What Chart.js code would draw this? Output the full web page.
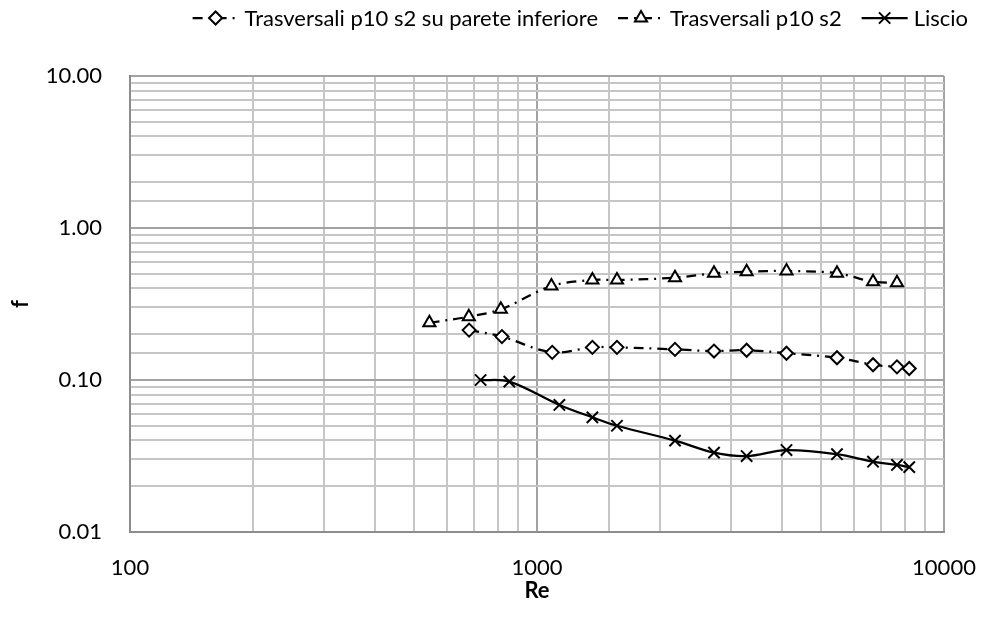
<!DOCTYPE html>
<html>
<head>
<meta charset="utf-8">
<title>f vs Re</title>
<script src="https://cdn.jsdelivr.net/npm/chart.js@4.4.1/dist/chart.umd.min.js"></script>
<style>
  html, body { margin: 0; padding: 0; background: #fff; }
  #wrap { width: 982px; height: 619px; position: relative; }
</style>
</head>
<body>
<div id="wrap"><canvas id="chart"></canvas></div>
<script>
// Re / f data for the three test sections
const reParete = [681, 820, 1090, 1368, 1572, 2183, 2722, 3274, 4102, 5458, 6693, 7664, 8215];
const fParete = [0.213, 0.193, 0.152, 0.164, 0.164, 0.159, 0.155, 0.157, 0.150, 0.140, 0.126, 0.122, 0.119];

const reTrasv = [544, 680, 815, 1085, 1368, 1572, 2183, 2722, 3274, 4102, 5458, 6693, 7664];
const fTrasv = [0.238, 0.261, 0.292, 0.415, 0.455, 0.455, 0.471, 0.504, 0.516, 0.521, 0.504, 0.443, 0.437];

const reLiscio = [727, 855, 1135, 1368, 1572, 2183, 2722, 3274, 4102, 5458, 6693, 7664, 8215];
const fLiscio = [0.100, 0.0975, 0.0685, 0.0568, 0.050, 0.0399, 0.0333, 0.0316, 0.0346, 0.0325, 0.029, 0.0276, 0.0267];

const seriesNames = ["Trasversali p10 s2 su parete inferiore", "Trasversali p10 s2", "Liscio"];
const xTicks = [100, 1000, 10000];
const yTicks = [0.01, 0.1, 1, 10];

const FONT = "Lato, 'Open Sans', sans-serif";
const DASH_DOT = [10, 6, 2, 6];

const toPoints = (xs, ys) => xs.map((x, i) => ({ x, y: ys[i] }));
const isDecade = v => Math.abs(Math.log10(v) - Math.round(Math.log10(v))) < 1e-6;
const inList = (list, v) => list.some(t => Math.abs(t - v) / t < 1e-6);

const gridColor = ctx => (ctx.tick && isDecade(ctx.tick.value)) ? "#a3a3a3" : "#c6c6c6";

// legend with a line sample + marker, drawn at the top right
const lineLegend = {
  id: "lineLegend",
  afterDraw(chart) {
    const ctx = chart.ctx;
    const sample = 46, gap = 6, itemGap = 20, right = 968, y = 18;
    ctx.save();
    ctx.font = "22px " + FONT;
    const items = chart.data.datasets.map(ds => ({ ds, w: sample + gap + ctx.measureText(ds.label).width }));
    const total = items.reduce((s, it) => s + it.w, 0) + itemGap * (items.length - 1);
    let x = right - total;
    items.forEach(({ ds, w }) => {
      ctx.strokeStyle = ds.borderColor;
      ctx.lineWidth = ds.borderWidth;
      ctx.setLineDash(ds.borderDash || []);
      ctx.beginPath();
      ctx.moveTo(x, y);
      ctx.lineTo(x + sample, y);
      ctx.stroke();
      ctx.setLineDash([]);
      ctx.fillStyle = ds.pointBackgroundColor;
      ctx.strokeStyle = ds.pointBorderColor;
      ctx.lineWidth = ds.pointBorderWidth;
      Chart.helpers.drawPoint(ctx, {
        pointStyle: ds.pointStyle, radius: ds.pointRadius,
        borderWidth: ds.pointBorderWidth, rotation: 0
      }, x + sample / 2, y);
      ctx.fillStyle = "#000";
      ctx.textBaseline = "middle";
      ctx.textAlign = "left";
      ctx.fillText(ds.label, x + sample + gap, y + 1);
      x += w + itemGap;
    });
    ctx.restore();
  }
};

const common = {
  borderColor: "#000",
  borderWidth: 2.25,
  pointBackgroundColor: "#fff",
  pointBorderColor: "#000",
  pointBorderWidth: 2,
  tension: 0.35,
  fill: false
};

new Chart(document.getElementById("chart"), {
  type: "line",
  data: {
    datasets: [
      { ...common, label: seriesNames[0], data: toPoints(reParete, fParete),
        borderDash: DASH_DOT, pointStyle: "rectRot", pointRadius: 6.5 },
      { ...common, label: seriesNames[1], data: toPoints(reTrasv, fTrasv),
        borderDash: DASH_DOT, pointStyle: "triangle", pointRadius: 7 },
      { ...common, label: seriesNames[2], data: toPoints(reLiscio, fLiscio),
        pointStyle: "crossRot", pointRadius: 8 }
    ]
  },
  options: {
    responsive: true,
    maintainAspectRatio: false,
    animation: false,
    layout: { padding: { top: 76, right: 38, bottom: 0, left: 0 } },
    plugins: {
      legend: { display: false },
      tooltip: { enabled: false }
    },
    scales: {
      x: {
        type: "logarithmic",
        min: 100,
        max: 10000,
        afterFit: s => { s.height = 87; s.paddingLeft = 0; s.paddingRight = 0; },
        grid: { color: gridColor, lineWidth: 2, drawTicks: false },
        border: { color: "#8c8c8c", width: 2 },
        ticks: {
          autoSkip: false,
          maxRotation: 0,
          padding: 23,
          color: "#000",
          font: { family: FONT, size: 22 },
          callback: v => inList(xTicks, v) ? String(Math.round(v)) : ""
        },
        title: {
          display: true, text: "Re", color: "#000",
          font: { family: FONT, size: 22, weight: "bold" },
          padding: { top: 0, bottom: 15 }
        }
      },
      y: {
        type: "logarithmic",
        min: 0.01,
        max: 10,
        afterFit: s => { s.width = 130; s.paddingTop = 0; s.paddingBottom = 0; },
        grid: { color: gridColor, lineWidth: 2, drawTicks: false },
        border: { color: "#8c8c8c", width: 2 },
        ticks: {
          autoSkip: false,
          padding: 28,
          color: "#000",
          font: { family: FONT, size: 22 },
          callback: v => inList(yTicks, v) ? Number(v).toFixed(2) : ""
        },
        title: {
          display: true, text: "f", color: "#000",
          font: { family: FONT, size: 22, weight: "bold" },
          padding: { top: 8, bottom: 0 }
        }
      }
    }
  },
  plugins: [lineLegend]
});
</script>
</body>
</html>
